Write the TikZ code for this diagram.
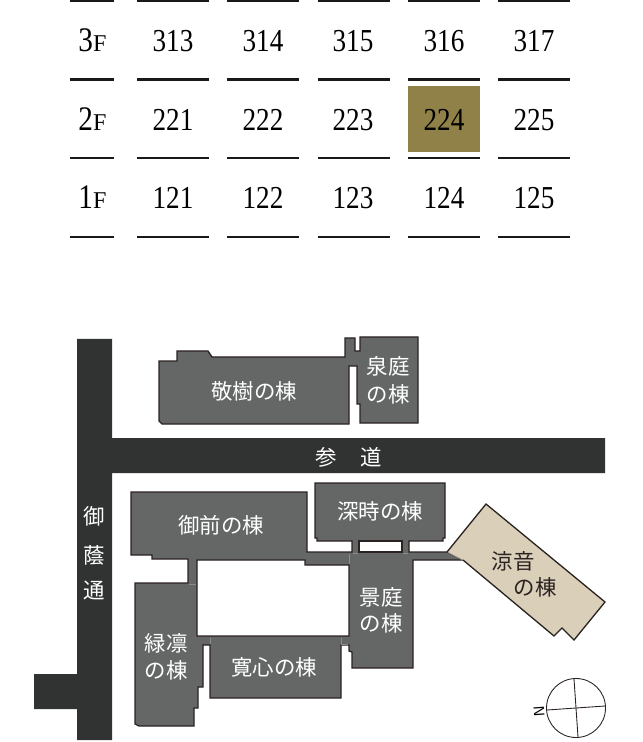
\documentclass[tikz,border=0pt]{standalone}
\usepackage{fontspec}
\newfontfamily\roomfont[FakeStretch=0.85]{Liberation Serif}
\newfontfamily\floorfont{Liberation Serif}
\newfontfamily\cjkfont{Noto Sans CJK JP}
\definecolor{roadgrey}{HTML}{313332}
\definecolor{wingrey}{HTML}{656766}
\definecolor{jointgrey}{HTML}{8A8C8B}
\definecolor{edgedark}{HTML}{2B2321}
\definecolor{sandbeige}{HTML}{DACFB9}
\definecolor{roomolive}{HTML}{8F8148}
\tikzset{
  roomlabel/.style={anchor=base, inner sep=0pt, font=\roomfont\fontsize{18.2}{20}\selectfont},
  winglabel/.style={inner sep=0pt, text=white, font=\cjkfont\fontsize{12.2}{14}\selectfont},
  wing/.style={fill=wingrey, draw=edgedark, line width=0.75pt, even odd rule},
  joint/.style={draw=jointgrey, line width=0.4pt},
}

\begin{document}
\begin{tikzpicture}[x=0.02cm, y=-0.02cm]
  \useasboundingbox (0,0) rectangle (642,742);

  % ── Highlighted room ──
  \fill[roomolive] (408,86) rectangle (480,152);

  % ── Floor rules ──
  \foreach \y in {1,79.5,158,237} {
    \foreach \xa/\xb in {70/114,137/209,227/299,318/389.5,408/480,498/570} {
      \draw[black!90, line width=1.15pt] (\xa,\y) -- (\xb,\y);
    }
  }

  % ── Floor names ──
  \foreach \f/\y in {3/52,2/131,1/209} {
    \node[roomlabel] (floor\f) at (92.5,\y) {\fontsize{19.6}{20}\selectfont\f{\floorfont\fontsize{13.7}{14}\selectfont F}};
  }

  % ── Room numbers ──
  \foreach \x/\a/\b/\c in {173/313/221/121,263/314/222/122,353/315/223/123,444/316/224/124,534/317/225/125} {
    \node[roomlabel] (room\a) at (\x,52) {\a};
    \node[roomlabel] (room\b) at (\x,131) {\b};
    \node[roomlabel] (room\c) at (\x,209) {\c};
  }

  % ── Roads ──
  \fill[roadgrey] (77,339) -- (112,339) -- (112,438) -- (605,438) -- (605,473) -- (112,473)
    -- (112,740) -- (77,740) -- (77,709) -- (34,709) -- (34,674) -- (77,674) -- cycle;

  % ── North wings (joined by a small link) ──
  \draw[wing] (159,361) -- (177,361) -- (177,351) -- (208,351) -- (212,357) -- (345,357)
    -- (345,338) -- (355,338) -- (355,351) -- (360,351) -- (360,337) -- (418,337) -- (418,423)
    -- (360,423) -- (360,404) -- (357,404) -- (357,366) -- (349,366) -- (349,424) -- (162,424)
    -- (159,421) -- cycle;

  % ── Main block, with its courtyard ──
  \draw[wing] (131,492) -- (307,492) -- (307,552) -- (352,552) -- (352,541) -- (317,541)
    -- (317,538) -- (315,538) -- (315,483) -- (445,483) -- (445,538) -- (443,538) -- (443,541)
    -- (409,541) -- (409,552) -- (447,552) -- (463,560) -- (413,560) -- (413,668) -- (352,668)
    -- (352,652) -- (349,651) -- (349,645) -- (341,645) -- (341,698) -- (210,698) -- (210,645)
    -- (203,645) -- (203,687) -- (198,687) -- (198,708) -- (194,708) -- (194,726) -- (139,726)
    -- (135,724) -- (135,583) -- (188,583) -- (188,559) -- (152,559) -- (152,555) -- (131,555)
    -- cycle
    (197,560) -- (305,560) -- (305,565) -- (349,565) -- (349,636) -- (197,636) -- cycle;

  % Gaps under the east wing
  \fill[white, draw=edgedark, line width=0.75pt] (359,541) rectangle (402,552);

  % Joints between the wings
  \draw[joint] (189,584) -- (196,584);
  \draw[joint] (210,638) -- (210,644);
  \draw[joint] (341,638) -- (341,644) -- (348,644);
  \draw[joint] (349,554) -- (349,564);
  \draw[joint] (353,553) -- (358,553);
  \draw[joint] (403,553) -- (408,553);

  % ── Beige wing ──
  \fill[sandbeige] (486,504) -- (605,602) -- (574,640) -- (562,628) -- (554,636) -- (463,560)
    -- (447,552) -- cycle;
  \draw[edgedark, line width=0.75pt] (447,552) -- (486,504) -- (605,602) -- (574,640) -- (562,628)
    -- (554,636) -- (463,560);
  \draw[joint] (448,552.5) -- (462,560);

  % ── Labels on the plan ──
  \node[winglabel] (keiju) at (254,391) {敬樹の棟};
  \node[winglabel] (sentei) at (388,366) {泉庭};
  \node[winglabel] (senteib) at (388,394) {の棟};
  \node[winglabel] (gozen) at (221,525) {御前の棟};
  \node[winglabel] (shinji) at (380,511) {深時の棟};
  \node[winglabel] (keitei) at (381,597) {景庭};
  \node[winglabel] (keiteib) at (381,623) {の棟};
  \node[winglabel] (ryokurin) at (166,643) {緑凛};
  \node[winglabel] (ryokurinb) at (166,670) {の棟};
  \node[winglabel] (kanshin) at (274,667) {寛心の棟};
  \node[winglabel, text=edgedark] (ryoon) at (513,561) {涼音};
  \node[winglabel, text=edgedark] (ryoonb) at (535,587) {の棟};
  \node[winglabel] (san) at (326,457) {参};
  \node[winglabel] (do) at (371,457) {道};
  \node[winglabel] (mi) at (94,516) {御};
  \node[winglabel] (kage) at (94,555) {蔭};
  \node[winglabel] (tori) at (94,591) {通};

  % ── Compass ──
  \draw[edgedark, line width=0.5pt] (576,708) circle (29.5);
  \draw[edgedark, line width=0.5pt] (547,710) -- (605,706);
  \draw[edgedark, line width=0.5pt] (574,679) -- (578,737);
  \node[inner sep=0pt, rotate=94, font=\sffamily\fontsize{8.5}{9}\selectfont] (north) at (539,711) {N};
\end{tikzpicture}
\end{document}
